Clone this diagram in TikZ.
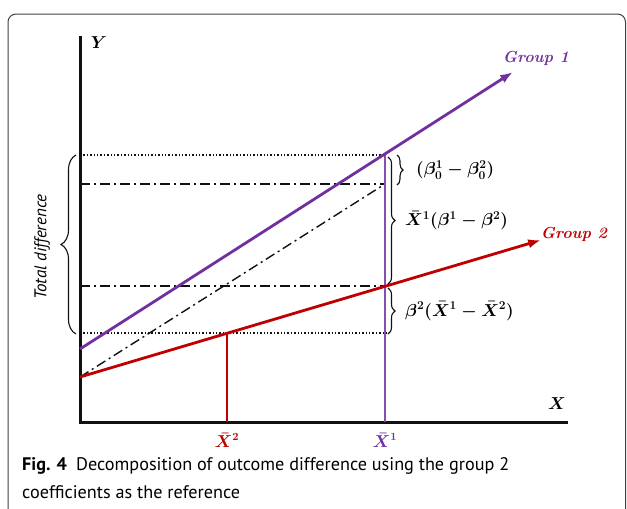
\documentclass[tikz,border=0pt]{standalone}
\usepackage{fontspec}
\usepackage{amsmath,bm}
\setsansfont{PT Sans}
\definecolor{ink}{HTML}{111111}
\definecolor{groupa}{HTML}{7030A0}
\definecolor{groupb}{HTML}{C00000}
\usetikzlibrary{arrows.meta,positioning,calc,decorations.pathreplacing}

\begin{document}
\begin{tikzpicture}[x=1pt,y=-1pt,every node/.style={font=\fontsize{16}{18}\selectfont\boldmath,inner sep=1pt}]
\tikzstyle{axis}=[ink,line width=3pt]
\tikzstyle{grline}=[line width=2.8pt,-{Latex[length=4.5mm,width=3.2mm]}]
\tikzstyle{drop}=[line width=1.3pt]
\tikzstyle{dotline}=[ink,line width=1.4pt,dotted]
\tikzstyle{dashdot}=[ink,line width=1.4pt,dash pattern=on 10pt off 4pt on 2pt off 4pt]
\tikzstyle{bracedraw}=[ink,line width=1.1pt,decorate,decoration={brace,amplitude=7pt}]
\tikzstyle{grlabel}=[font=\fontsize{16}{18}\selectfont\bfseries\itshape]
\tikzstyle{declabel}=[anchor=west,font=\fontsize{17}{20}\selectfont\boldmath]
\useasboundingbox (0,0) rectangle (627,509);
% frame of the figure
\draw[ink!80,line width=1pt,rounded corners=8pt] (8,515) -- (8,14) -- (625.5,14) -- (625.5,515);
% axes
\coordinate (orig) at (80,422);
\coordinate (ytop) at (80,36);
\coordinate (xend) at (568,422);
\draw[axis] (ytop) -- (orig) -- (xend);
\node (ylab) at (99,43) {$Y$};
\node (xlab) at (557,404) {$X$};
% points on the lines
\coordinate (a1) at (80,349);
\coordinate (a2) at (80,377);
\coordinate (p1) at (385,155);
\coordinate (c1) at (385,184);
\coordinate (q1) at (385,286);
\coordinate (q2) at (227,333);
\coordinate (tipa) at (513,72);
\coordinate (tipb) at (541,240);
% guide lines
\draw[dotline] (p1 -| orig) -- (p1);
\draw[dotline] (q2 -| orig) -- (388,333);
\draw[dashdot] (c1 -| orig) -- (c1);
\draw[dashdot] (q1 -| orig) -- (q1);
\draw[dashdot] (a2) -- (c1);
% drops to the means
\draw[drop,groupb] (q2) -- (q2 |- orig);
\draw[drop,groupa!85] (p1) -- (p1 |- orig);
% regression lines
\draw[grline,groupa] (a1) -- (tipa);
\draw[grline,groupb] (a2) -- (tipb);
\node[grlabel,groupa] (ga) at (536,58) {Group 1};
\node[grlabel,groupb] (gb) at (574,234) {Group 2};
\node[groupb,inner sep=0pt] (mb) at (227,440) {$\bar{X}^2$};
\node[groupa,inner sep=0pt] (ma) at (385,440) {$\bar{X}^1$};
% braces
\draw[bracedraw,decoration={amplitude=6pt}] (397,155) -- (397,185) coordinate[midway] (bintc);
\draw[bracedraw] (388,157) -- (388,284) coordinate[midway] (bslope);
\draw[bracedraw] (388,288) -- (388,334) coordinate[midway] (bmean);
\draw[bracedraw,decoration={amplitude=15pt}] (76,334) -- (76,155);
\node[declabel] (lintc) at (bintc -| 415,0) {$(\beta_0^1-\beta_0^2)$};
\node[declabel] (lslope) at (bslope -| 404,0) {$\bar{X}^1(\beta^1-\beta^2)$};
\node[declabel] (lmean) at (bmean -| 404,0) {$\beta^2(\bar{X}^1-\bar{X}^2)$};
\node[rotate=90,font=\sffamily\itshape\fontsize{17}{20}\selectfont] (ltot) at (42,247) {Total difference};
% caption
\node[anchor=west,font=\sffamily\fontsize{18.2}{22}\selectfont] (cap) at (21,466)
  {\textbf{Fig. 4}\enspace Decomposition of outcome difference using the group 2};
\node[anchor=west,font=\sffamily\fontsize{18.2}{22}\selectfont] (cap2) at (21,492)
  {coefficients as the reference};
\end{tikzpicture}
\end{document}
